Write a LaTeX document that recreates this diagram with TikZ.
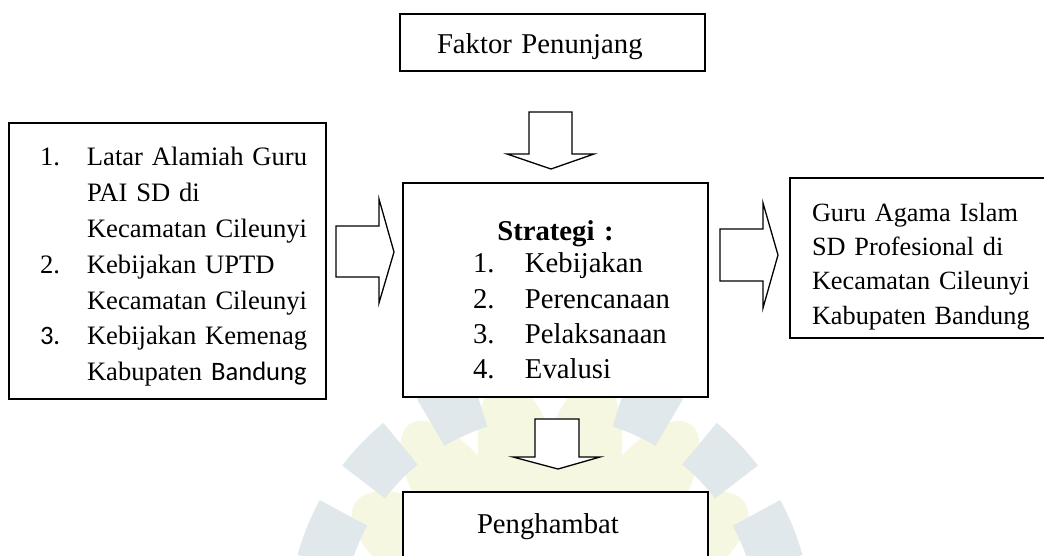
\documentclass[tikz,border=0pt]{standalone}
\usepackage{fontspec}
\setmainfont{Liberation Serif}
\newfontfamily\carlito{Carlito}
\usepackage{tikz}

\definecolor{wmblue}{RGB}{225,232,235}
\definecolor{wmyellow}{RGB}{245,247,224}

\begin{document}
\begin{tikzpicture}[x=1pt, y=-1pt,
    box/.style={draw, line width=1.6pt, fill=white, inner xsep=8pt, inner ysep=0pt, align=left},
    blockarr/.style={draw, line width=1.3pt, fill=white, line join=miter},
    bigfont/.style={font=\fontsize{28.7}{35.3}\selectfont}]
  \useasboundingbox (0,0) rectangle (1044,555);
  \clip (0,0) rectangle (1044,555);

  % faint logo in the background
  \begin{scope}[shift={(550,625)}]
    \foreach \a/\r in {11/100,35/95,58/80}{
      \fill[wmyellow, rotate=90+\a] (150,0) ellipse [x radius=\r, y radius=40];
      \fill[wmyellow, rotate=90-\a] (150,0) ellipse [x radius=\r, y radius=40];
    }
    \foreach \t in {202,224,246,294,316,338}
      \fill[wmblue] ({\t-6.5}:208) arc[start angle={\t-6.5}, end angle={\t+6.5}, radius=208]
        -- ({\t+6.5}:262) arc[start angle={\t+6.5}, end angle={\t-6.5}, radius=262] -- cycle;
  \end{scope}

  \node[box, bigfont, minimum width=305pt, minimum height=57pt, text width=289pt,
    text height=28pt] (faktor) at (552.5,42.5) {\hspace*{29pt}Faktor Penunjang};

  \node[box, font=\fontsize{26.6}{35.9}\selectfont, minimum width=317pt, minimum height=276pt,
    text width=301pt, text height=30pt] (kondisi) at (167.5,261) {%
    \hspace*{23pt}\makebox[47pt][l]{1.}Latar Alamiah Guru\\
    \hspace*{70pt}PAI SD di\\
    \hspace*{70pt}Kecamatan Cileunyi\\
    \hspace*{23pt}\makebox[47pt][l]{2.}Kebijakan UPTD\\
    \hspace*{70pt}Kecamatan Cileunyi\\
    \hspace*{23pt}\makebox[47pt][l]{\carlito 3.}Kebijakan Kemenag\\
    \hspace*{70pt}Kabupaten {\carlito Bandung}};

  \node[box, bigfont, minimum width=305pt, minimum height=214pt, text width=289pt,
    text height=40pt] (strategi) at (555.5,290) {%
    \makebox[289pt]{\bfseries Strategi :}\\[-3.3pt]
    \hspace*{62pt}\makebox[52pt][l]{1.}Kebijakan\\
    \hspace*{62pt}\makebox[52pt][l]{2.}Perencanaan\\
    \hspace*{62pt}\makebox[52pt][l]{3.}Pelaksanaan\\
    \hspace*{62pt}\makebox[52pt][l]{4.}Evalusi};

  \node[box, font=\fontsize{26.3}{34.4}\selectfont, minimum width=262pt, minimum height=160pt,
    text width=246pt, text height=35pt] (hasil) at (921,258) {%
    \hspace*{14pt}Guru Agama Islam\\
    \hspace*{14pt}SD Profesional di\\
    \hspace*{14pt}Kecamatan Cileunyi\\
    \hspace*{14pt}Kabupaten Bandung};

  \node[box, bigfont, minimum width=305pt, minimum height=66pt, text width=289pt,
    text height=24pt] (hambat) at (555.5,525) {\hspace*{66pt}Penghambat};

  % block arrows
  \draw[blockarr] (529,112) -- (572,112) -- (572,154) -- (594,154) -- (551,169)
    -- (507,154) -- (529,154) -- cycle;
  \draw[blockarr] (336,226) -- (379,226) -- (379,199) -- (394,252) -- (379,303)
    -- (379,277) -- (336,277) -- cycle;
  \draw[blockarr] (720,229) -- (763,229) -- (763,203) -- (778,255) -- (763,308)
    -- (763,281) -- (720,281) -- cycle;
  \draw[blockarr] (535,419) -- (579,419) -- (579,457) -- (600,457) -- (558,469)
    -- (513,457) -- (535,457) -- cycle;
\end{tikzpicture}
\end{document}
